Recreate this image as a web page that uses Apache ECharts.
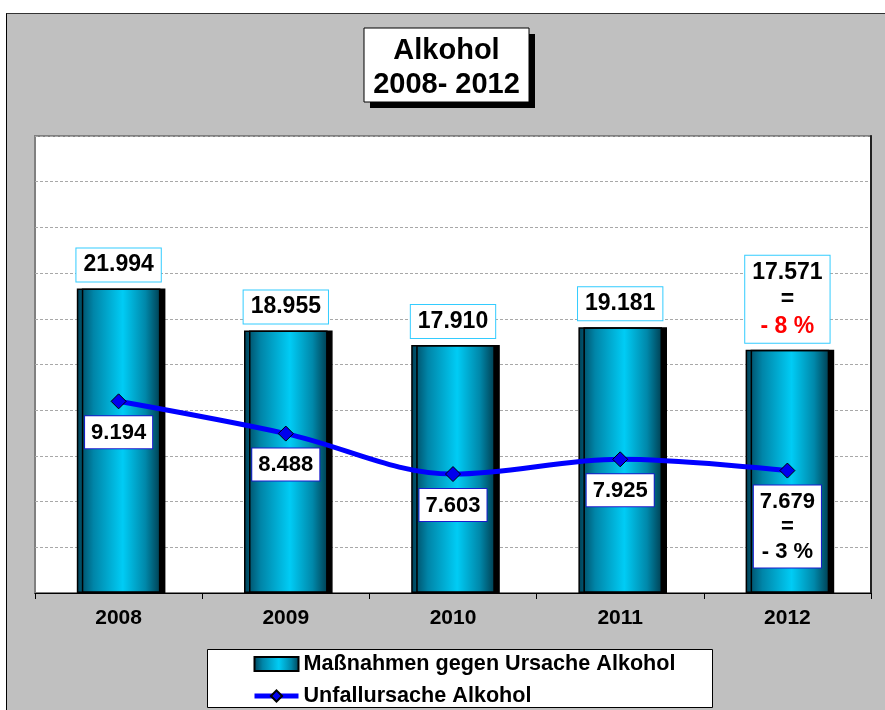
<!DOCTYPE html>
<html>
<head>
<meta charset="utf-8">
<script src="https://cdn.jsdelivr.net/npm/echarts@6/dist/echarts.min.js"></script>
<style>
  html, body { margin: 0; padding: 0; background: #ffffff; }
  #wrap { position: relative; width: 885px; height: 710px; overflow: hidden; background: #ffffff; }
  #panel { position: absolute; left: 6px; top: 13px; width: 879px; height: 697px; background: #c0c0c0;
           border-top: 1px solid #333333; border-left: 1px solid #000000; box-sizing: border-box; }
  #chart { position: absolute; left: 0; top: 0; width: 885px; height: 710px; }
</style>
</head>
<body>
<div id="wrap">
  <div id="panel"></div>
  <div id="chart"></div>
</div>
<script>
// ---- data ----
const categories = ['2008', '2009', '2010', '2011', '2012'];
const massnahmenValues = [21994, 18955, 17910, 19181, 17571];
const unfallValues = [9194, 8488, 7603, 7925, 7679];
const massnahmenChange = ['', '', '', '', '- 8 %'];
const unfallChange = ['', '', '', '', '- 3 %'];
const seriesNames = ['Maßnahmen gegen Ursache Alkohol', 'Unfallursache Alkohol'];
const titleLines = ['Alkohol', '2008- 2012'];
const barAxisRange = [0, 33000, 3300];
const lineAxisRange = [5000, 15000, 1000];

function fmt(v) {
  return String(Math.floor(v / 1000)) + '.' + String(v % 1000).padStart(3, '0');
}

const FONT = '"Liberation Sans", Arial, sans-serif';

const barGradient = new echarts.graphic.LinearGradient(0, 0, 1, 0, [
  { offset: 0, color: '#003f55' },
  { offset: 0.2, color: '#0085a8' },
  { offset: 0.55, color: '#00ccf5' },
  { offset: 0.82, color: '#0088aa' },
  { offset: 1, color: '#003f52' }
]);

const chart = echarts.init(document.getElementById('chart'), null, { renderer: 'canvas' });

const option = {
  animation: false,
  backgroundColor: 'transparent',
  textStyle: { fontFamily: FONT },
  graphic: [
    { type: 'rect', z: 100, shape: { x: 370, y: 34, width: 165, height: 74 }, style: { fill: '#000000' } },
    { type: 'rect', z: 101, shape: { x: 364, y: 28, width: 165, height: 74 }, style: { fill: '#ffffff', stroke: '#000000', lineWidth: 1 } },
    { type: 'text', z: 102, x: 446.5, y: 51, style: { text: titleLines[0], fill: '#000', font: 'bold 29px ' + FONT, textAlign: 'center', textVerticalAlign: 'middle' } },
    { type: 'text', z: 102, x: 446.5, y: 85, style: { text: titleLines[1], fill: '#000', font: 'bold 29px ' + FONT, textAlign: 'center', textVerticalAlign: 'middle' } },
    { type: 'rect', z: 1, shape: { x: 207.5, y: 649.5, width: 505, height: 58 }, style: { fill: '#ffffff', stroke: '#000000', lineWidth: 1 } }
  ],
  grid: {
    left: 35, right: 14, top: 136, bottom: 117,
    show: true, backgroundColor: '#ffffff', borderColor: '#808080', borderWidth: 2
  },
  legend: {
    z: 10,
    orient: 'vertical',
    left: 252, top: 653,
    itemWidth: 44, itemHeight: 14, itemGap: 10,
    padding: 0,
    textStyle: { fontSize: 21.6, fontWeight: 'bold', color: '#000', fontFamily: FONT, lineHeight: 21 },
    data: [
      { name: seriesNames[0], icon: 'rect' },
      { name: seriesNames[1], lineStyle: { width: 5, color: '#0000ff' } }
    ]
  },
  xAxis: {
    type: 'category',
    data: categories,
    boundaryGap: true,
    axisLine: { show: true, lineStyle: { color: '#000', width: 1 } },
    axisTick: { show: true, length: 6, lineStyle: { color: '#000' } },
    axisLabel: { margin: 15, fontSize: 21, fontWeight: 'bold', color: '#000', fontFamily: FONT },
    z: 5
  },
  yAxis: [
    {
      type: 'value', min: barAxisRange[0], max: barAxisRange[1], interval: barAxisRange[2],
      axisLabel: { show: false }, axisTick: { show: false }, axisLine: { show: false },
      splitLine: { show: true, lineStyle: { color: '#a8a8a8', width: 1, type: [3, 2] } }
    },
    {
      type: 'value', position: 'right', min: lineAxisRange[0], max: lineAxisRange[1], interval: lineAxisRange[2],
      axisLabel: { show: false }, axisTick: { show: false },
      axisLine: { show: true, lineStyle: { color: '#222', width: 2 } },
      splitLine: { show: false }
    }
  ],
  series: [
    {
      name: seriesNames[0],
      type: 'bar',
      yAxisIndex: 0,
      data: massnahmenValues,
      barWidth: '50%',
      itemStyle: {
        color: barGradient,
        borderColor: '#000000',
        borderWidth: 1.5,
        shadowColor: '#000000',
        shadowOffsetX: 5,
        shadowOffsetY: 0,
        shadowBlur: 0
      },
      label: {
        show: true,
        position: 'top',
        distance: 7,
        backgroundColor: '#ffffff',
        borderColor: '#33ccff',
        borderWidth: 1,
        padding: [3, 7, 3, 7],
        formatter: function (p) {
          const chg = massnahmenChange[p.dataIndex];
          const v = fmt(massnahmenValues[p.dataIndex]);
          return chg ? '{n|' + v + '}\n{n|=}\n{r|' + chg + '}' : '{n|' + v + '}';
        },
        rich: {
          n: { fontSize: 23, fontWeight: 'bold', color: '#000', lineHeight: 27, fontFamily: FONT, align: 'center' },
          r: { fontSize: 23, fontWeight: 'bold', color: '#ff0000', lineHeight: 27, fontFamily: FONT, align: 'center' }
        }
      },
      z: 2
    },
    {
      name: seriesNames[1],
      type: 'line',
      yAxisIndex: 1,
      data: unfallValues,
      smooth: 0.35,
      symbol: 'diamond',
      symbolSize: 15,
      lineStyle: { color: '#0000ff', width: 5 },
      itemStyle: { color: '#0000ee', borderColor: '#000000', borderWidth: 1 },
      label: {
        show: true,
        position: 'bottom',
        distance: 7,
        backgroundColor: '#ffffff',
        borderColor: '#1a1acc',
        borderWidth: 1,
        padding: [4, 6, 3, 6],
        formatter: function (p) {
          const chg = unfallChange[p.dataIndex];
          const v = fmt(unfallValues[p.dataIndex]);
          return chg ? '{n|' + v + '}\n{n|=}\n{n|' + chg + '}' : '{n|' + v + '}';
        },
        rich: {
          n: { fontSize: 22, fontWeight: 'bold', color: '#000', lineHeight: 25, fontFamily: FONT, align: 'center' }
        }
      },
      z: 3
    }
  ]
};

chart.setOption(option);
</script>
</body>
</html>
